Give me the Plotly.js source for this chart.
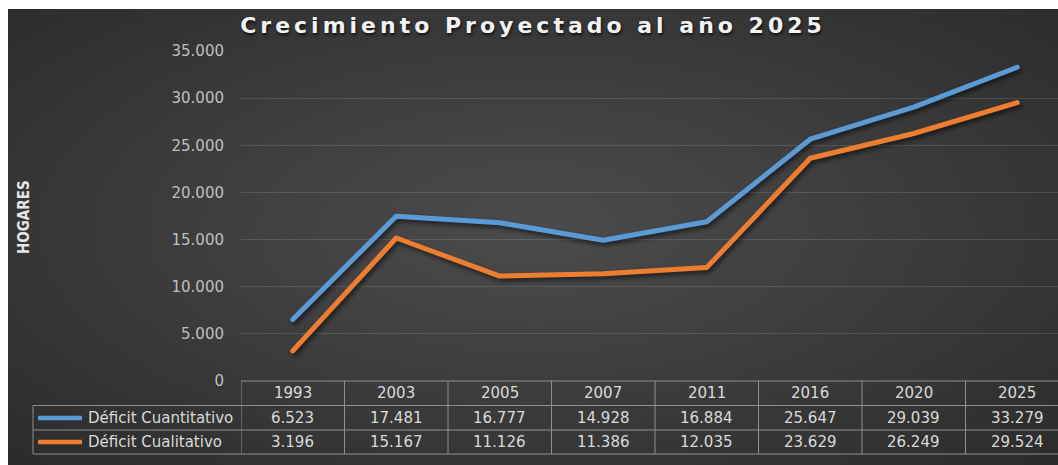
<!DOCTYPE html>
<html>
<head>
<meta charset="utf-8">
<script src="https://cdn.plot.ly/plotly-3.0.1.min.js"></script>
<style>
  html, body { margin: 0; padding: 0; background: #ffffff; overflow: hidden; width: 1058px; height: 465px; }
  #bg { position: absolute; left: 8px; top: 9px; width: 1050px; height: 456px;
        background: radial-gradient(ellipse at 50% 48%, #4b4b4b 0%, #414141 35%, #2b2b2b 100%); }
  #chart { position: absolute; left: 0; top: 0; width: 1075px; height: 465px; }
  .gtitle { letter-spacing: 4px; }
  .scatterlayer .js-line { stroke-linecap: round; stroke-linejoin: round;
        filter: drop-shadow(2px 3px 2px rgba(0,0,0,0.55)); }
</style>
</head>
<body>
<div id="bg"></div>
<div id="chart"></div>
<script>
// ---- data ----
const years = ["1993", "2003", "2005", "2007", "2011", "2016", "2020", "2025"];
const seriesNames = ["Déficit Cuantitativo", "Déficit Cualitativo"];
const cuantitativo = [6523, 17481, 16777, 14928, 16884, 25647, 29039, 33279];
const cualitativo = [3196, 15167, 11126, 11386, 12035, 23629, 26249, 29524];
const yTickVals = [0, 5000, 10000, 15000, 20000, 25000, 30000, 35000];

// ---- layout geometry (pixels) ----
const W = 1075, H = 465;
const L = 241, T = 51, PW = 828, PH = 330;
const px = x => (x - L) / PW;          // pixel x -> paper
const py = y => (T + PH - y) / PH;     // pixel y -> paper

const colors = ["#5b9bd5", "#ed7d31"];
const seriesVals = [cuantitativo, cualitativo];
const fmt = v => String(v).replace(/\B(?=(\d{3})+(?!\d))/g, ".");

const traces = seriesVals.map((vals, i) => ({
  type: "scatter", mode: "lines", x: years, y: vals, name: seriesNames[i],
  line: { color: colors[i], width: 5 }, hoverinfo: "skip"
}));

const tableFont = { family: "DejaVu Sans, sans-serif", size: 15, color: "#d9d9d9" };
const gridCol = "#8f8f8f";
const annotations = [];
const shapes = [];

// header row: years (category index positions on the x axis)
years.forEach((y, i) => annotations.push({ xref: "x", yref: "paper", x: i, y: py(393), text: y,
  showarrow: false, xanchor: "center", yanchor: "middle", font: tableFont }));
// value rows
const rowY = [418, 442];
seriesVals.forEach((vals, r) => {
  vals.forEach((v, i) => annotations.push({ xref: "x", yref: "paper", x: i, y: py(rowY[r]),
    text: fmt(v), showarrow: false, xanchor: "center", yanchor: "middle", font: tableFont }));
  annotations.push({ xref: "paper", yref: "paper", x: px(86), y: py(rowY[r]), text: seriesNames[r],
    showarrow: false, xanchor: "left", yanchor: "middle", font: tableFont });
  shapes.push({ type: "line", xref: "paper", yref: "paper", x0: px(38), x1: px(82),
    y0: py(rowY[r]), y1: py(rowY[r]), line: { color: colors[r], width: 4.5 } });
});
// y-axis title
annotations.push({ xref: "paper", yref: "paper", x: px(24), y: py(217), text: "HOGARES", textangle: -90,
  showarrow: false, xanchor: "center", yanchor: "middle",
  font: { family: "Liberation Sans Narrow, DejaVu Sans Condensed, sans-serif", size: 15, weight: "bold", color: "#e6e6e6" } });

// table grid lines
shapes.push({ type: "line", xref: "paper", yref: "paper", x0: 0, x1: 1, y0: py(381), y1: py(381), line: { color: gridCol, width: 1 } });
[405.5, 430, 454].forEach(yy => shapes.push({ type: "line", xref: "paper", yref: "paper",
  x0: px(33), x1: 1, y0: py(yy), y1: py(yy), line: { color: gridCol, width: 1 } }));
for (let k = 0; k <= years.length; k++) {
  shapes.push({ type: "line", xref: "x", yref: "paper", x0: k - 0.5, x1: k - 0.5,
    y0: py(381), y1: py(454), line: { color: gridCol, width: 1 } });
}
shapes.push({ type: "line", xref: "paper", yref: "paper", x0: px(33), x1: px(33),
  y0: py(405.5), y1: py(454), line: { color: gridCol, width: 1 } });

const layout = {
  width: W, height: H,
  margin: { l: L, r: W - L - PW, t: T, b: H - T - PH, pad: 0 },
  paper_bgcolor: "rgba(0,0,0,0)", plot_bgcolor: "rgba(0,0,0,0)",
  separators: ",.",
  showlegend: false,
  title: { text: "<b>Crecimiento Proyectado al año 2025</b>", xref: "paper", x: px(533), xanchor: "center",
    yref: "container", y: 1 - 25 / H, yanchor: "middle",
    font: { family: "DejaVu Sans, sans-serif", size: 22, color: "#f2f2f2", shadow: "1px 2px 3px rgba(0,0,0,0.7)" } },
  xaxis: { type: "category", range: [-0.5, years.length - 0.5], showticklabels: false, showgrid: false,
    zeroline: false, showline: false, ticks: "", fixedrange: true },
  yaxis: { range: [0, 35000], tickvals: yTickVals, tickformat: ",d", showgrid: true,
    gridcolor: "rgba(255,255,255,0.12)", gridwidth: 1, zeroline: false, showline: false, ticks: "",
    ticklabelstandoff: 16,
    tickfont: { family: "DejaVu Sans, sans-serif", size: 15, color: "#bfbfbf" }, fixedrange: true },
  annotations: annotations,
  shapes: shapes
};

Plotly.newPlot("chart", traces, layout, { displayModeBar: false, staticPlot: true });
</script>
</body>
</html>
